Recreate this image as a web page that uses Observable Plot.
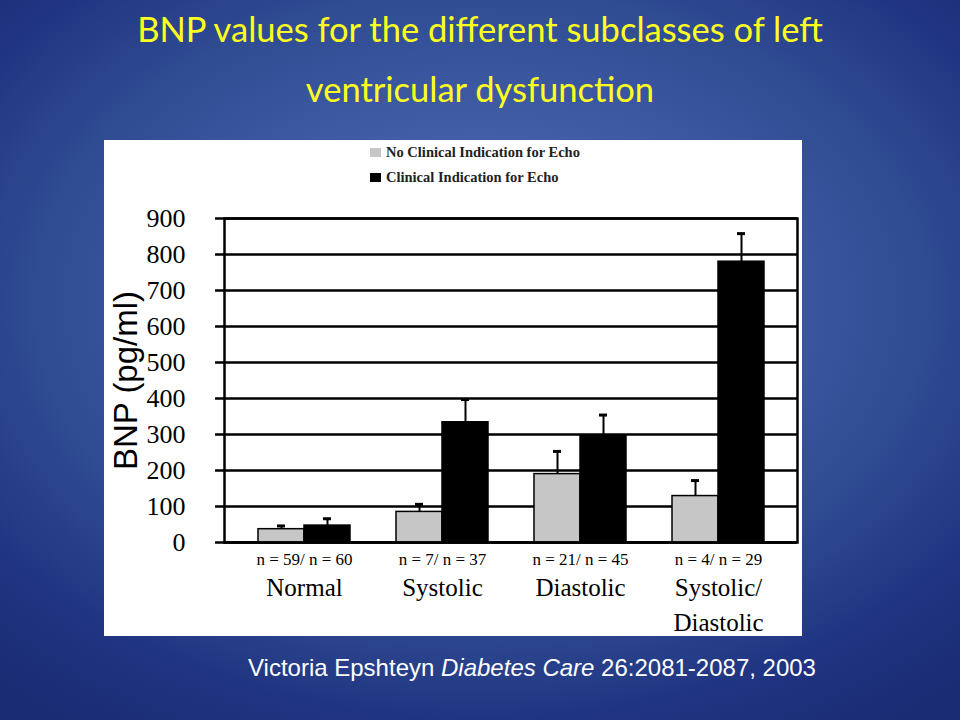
<!DOCTYPE html>
<html>
<head>
<meta charset="utf-8">
<script src="https://cdn.jsdelivr.net/npm/d3@7"></script>
<script src="https://cdn.jsdelivr.net/npm/@observablehq/plot@0.6"></script>
<style>
  html, body { margin: 0; padding: 0; }
  body {
    width: 960px; height: 720px; position: relative; overflow: hidden;
    background: radial-gradient(ellipse 75% 70% at 50% 42%, #4c69b2 0%, #4360a9 30%, #2f4b92 62%, #1f3380 85%, #1a2c74 100%);
  }
  .title {
    position: absolute; left: 0; width: 960px; text-align: center;
    color: #ffff1e; font-family: Lato, "Open Sans", sans-serif; font-size: 34.5px;
    line-height: 40px;
  }
  #panel {
    position: absolute; left: 104px; top: 140px; width: 698px; height: 496px; background: #fff;
  }
  #legend {
    position: absolute; left: 266px; top: 0px; font-family: "Liberation Serif", serif;
    font-size: 14.5px; font-weight: bold; color: #222;
  }
  #legend .row { height: 25px; line-height: 25px; display: flex; align-items: center; }
  #legend .sw { width: 11px; height: 9px; margin-right: 5px; display: inline-block; }
  #chart { position: absolute; left: 0; top: 55px; }
  .caption {
    position: absolute; left: 248px; top: 654px; color: #fff;
    font-family: "Liberation Sans", Arial, sans-serif; font-size: 24px;
  }
</style>
</head>
<body>
<div class="title" style="top:9px">BNP values for the different subclasses of left</div>
<div class="title" style="top:69px">ventricular dysfunction</div>
<div id="panel">
  <div id="legend"></div>
  <div id="chart"></div>
</div>
<div class="caption">Victoria Epshteyn <i>Diabetes Care</i> 26:2081-2087, 2003</div>
<script>
// ---- data ----
const groups = ["Normal", "Systolic", "Diastolic", "Systolic/Diastolic"];
const groupLabels = ["Normal", "Systolic", "Diastolic", "Systolic/\nDiastolic"];
const nLabels = ["n = 59/ n = 60", "n = 7/ n = 37", "n = 21/ n = 45", "n = 4/ n = 29"];
const series = ["No Clinical Indication for Echo", "Clinical Indication for Echo"];
const seriesColors = ["#c6c6c6", "#000000"];
const noIndication = [37, 85, 190, 129];
const noIndicationUpper = [46, 106, 253, 172];
const indication = [47, 334, 296, 780];
const indicationUpper = [66, 397, 354, 858];
const yTicks = [0, 100, 200, 300, 400, 500, 600, 700, 800, 900];

// ---- table ----
const rows = groups.flatMap((g, i) => [
  {group: g, series: series[0], slot: g + "|0", value: noIndication[i], upper: noIndicationUpper[i]},
  {group: g, series: series[1], slot: g + "|1", value: indication[i], upper: indicationUpper[i]}
]);
const slotDomain = groups.flatMap((g, i) =>
  i < groups.length - 1 ? [g + "|0", g + "|1", "gap" + i] : [g + "|0", g + "|1"]);
const labelRows = groups.map((g, i) => ({slot: g + "|1", label: groupLabels[i], n: nLabels[i]}));

// ---- legend ----
const legend = document.getElementById("legend");
series.forEach((s, i) => {
  const row = document.createElement("div");
  row.className = "row";
  const sw = document.createElement("span");
  sw.className = "sw";
  sw.style.background = seriesColors[i];
  row.appendChild(sw);
  row.appendChild(document.createTextNode(s));
  legend.appendChild(row);
});

// ---- chart ----
const serif = "Liberation Serif, Times New Roman, serif";
const chart = Plot.plot({
  width: 698,
  height: 441,
  marginLeft: 120,
  marginRight: 5,
  marginTop: 23,
  marginBottom: 94,
  style: {background: "transparent", fontFamily: serif, color: "#000"},
  x: {type: "band", domain: slotDomain, paddingInner: 0, paddingOuter: 0.71, axis: null},
  y: {domain: [0, 900], axis: null},
  color: {domain: series, range: seriesColors},
  marks: [
    Plot.ruleY(yTicks, {stroke: "#000", strokeWidth: 2.5}),
    Plot.axisY(yTicks, {tickSize: 9, tickPadding: 30, strokeWidth: 2.5, fontSize: 26, fontFamily: serif, label: null}),
    Plot.frame({stroke: "#000", strokeWidth: 2.5}),
    Plot.ruleX(rows, {x: "slot", y1: "value", y2: "upper", stroke: "#000", strokeWidth: 2}),
    Plot.tickY(rows, {x: "slot", y: "upper", stroke: "#000", strokeWidth: 3, insetLeft: 19, insetRight: 19}),
    Plot.barY(rows, {x: "slot", y: "value", fill: "series", stroke: "#000", strokeWidth: 1.5}),
    Plot.ruleY([0], {stroke: "#000", strokeWidth: 2.5}),
    Plot.text(labelRows, {x: "slot", y: 0, text: "n", dx: -23, dy: 17, fontSize: 17, fontFamily: serif}),
    Plot.text(labelRows, {x: "slot", y: 0, text: "label", dx: -23, dy: 29, lineAnchor: "top", lineHeight: 1.4, fontSize: 25, fontFamily: serif}),
    Plot.text(["BNP (pg/ml)"], {frameAnchor: "left", textAnchor: "middle", rotate: -90, dx: -98, fontSize: 33, fontFamily: "Liberation Sans, Arial, sans-serif"})
  ]
});
document.getElementById("chart").appendChild(chart);
</script>
</body>
</html>
